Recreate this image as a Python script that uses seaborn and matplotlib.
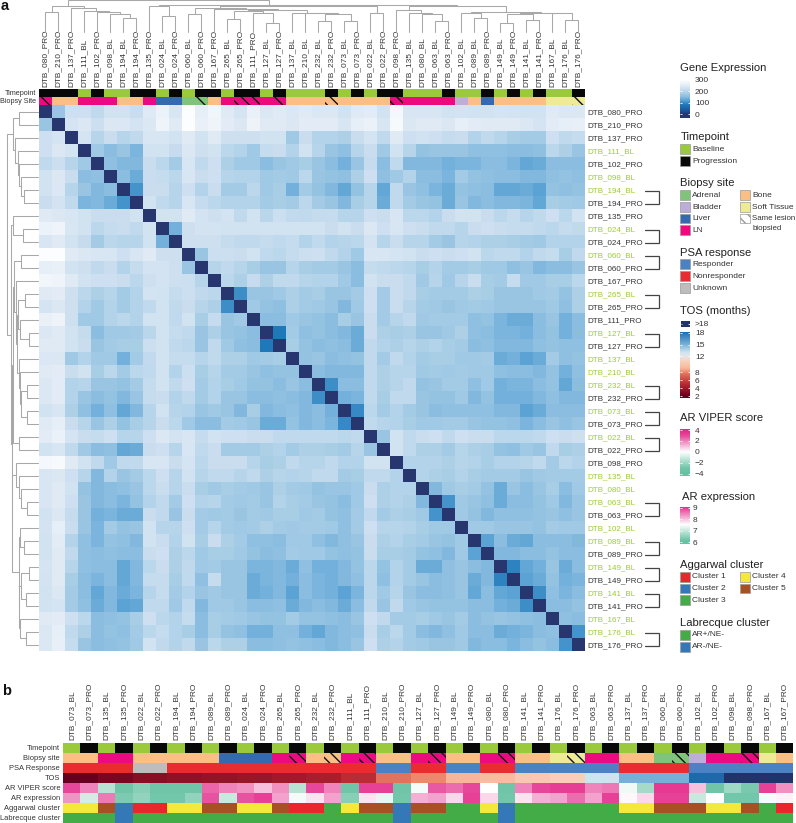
import numpy as np
import pandas as pd
import matplotlib
matplotlib.use("Agg")
import matplotlib.pyplot as plt
import seaborn as sns
from matplotlib.colors import ListedColormap, LinearSegmentedColormap, Normalize
from matplotlib.patches import Rectangle

sns.set_style("white")
plt.rcParams['font.family'] = ['Liberation Sans', 'DejaVu Sans']
plt.rcParams['hatch.linewidth'] = 1.0

# ---------- data, panel a ----------
order_a = ["080_PRO","210_PRO","137_PRO","111_BL","102_PRO","098_BL","194_BL","194_PRO","135_PRO","024_BL","024_PRO",
           "060_BL","060_PRO","167_PRO","265_BL","265_PRO","111_PRO","127_BL","127_PRO","137_BL","210_BL","232_BL",
           "232_PRO","073_BL","073_PRO","022_BL","022_PRO","098_PRO","135_BL","080_BL","063_BL","063_PRO","102_BL",
           "089_BL","089_PRO","149_BL","149_PRO","141_BL","141_PRO","167_BL","176_BL","176_PRO"]

upper = [
 [165,220,220,205,225,225,215,245,265,235,295,255,275,245,232,260,240,245,238,245,240,240,225,245,250,225,280,235,235,235,225,228,225,225,230,228,225,225,245,240,240],
 [232,240,218,240,238,228,240,270,245,295,260,270,250,240,268,245,245,240,250,248,248,235,255,262,235,285,240,245,245,240,255,250,245,245,245,240,232,250,255,258],
 [232,195,215,195,205,235,235,225,245,225,245,222,222,222,225,225,170,215,190,190,185,215,232,205,245,220,225,220,210,215,190,205,195,180,175,175,220,205,210],
 [170,150,165,140,225,225,212,240,222,225,200,190,170,210,215,190,225,195,165,155,195,215,170,225,195,160,165,165,165,155,155,155,150,150,155,200,185,165],
 [155,145,145,215,200,175,235,205,220,185,170,170,150,165,170,180,165,150,135,165,210,150,205,145,145,145,135,140,140,150,150,140,125,130,150,150,150],
 [150,130,215,210,200,235,215,220,195,190,190,170,175,170,200,165,160,155,185,220,155,170,190,150,150,140,175,160,155,150,150,145,145,155,160,155],
 [105,215,215,195,220,190,215,175,175,200,170,180,135,175,160,145,125,160,195,125,205,165,155,140,130,160,155,150,125,125,130,120,160,155,160],
 [225,205,195,235,210,200,190,190,190,175,180,175,200,175,165,145,180,195,130,205,175,165,160,130,165,145,150,145,145,140,125,180,175,170],
 [225,225,245,228,222,228,205,225,198,218,208,205,210,210,195,195,220,215,235,200,200,190,215,225,225,215,200,210,195,205,220,200,225],
 [135,222,228,228,225,225,225,225,225,225,225,225,215,225,215,240,220,235,220,215,205,205,195,215,220,215,210,210,205,200,210,205],
 [222,222,222,210,205,205,210,205,210,190,205,190,195,200,228,195,215,195,195,175,165,195,190,185,185,180,175,170,190,190,190],
 [165,218,218,215,225,205,200,210,218,220,205,190,170,235,235,232,225,215,220,215,220,225,200,205,205,190,205,210,180,205],
 [195,205,195,180,165,165,195,180,175,175,165,150,210,205,200,195,180,190,175,175,180,170,170,155,165,145,150,150,165],
 [200,185,212,185,205,205,195,190,190,170,150,225,215,215,205,170,195,170,195,215,180,175,210,170,170,180,180,200],
 [100,165,165,170,185,175,180,165,165,175,220,175,215,205,180,175,175,175,185,180,165,165,165,170,175,160,185],
 [170,160,155,185,175,170,165,145,170,220,175,215,195,175,170,165,170,175,170,165,165,165,165,170,155,185],
 [150,150,170,165,160,150,180,165,215,175,195,205,170,175,175,175,155,160,140,130,130,150,165,135,150],
 [80,175,155,160,150,145,130,215,185,180,185,165,165,170,185,155,150,140,140,135,150,160,135,150],
 [180,160,150,155,150,130,205,190,185,195,185,190,180,175,150,155,145,145,145,155,160,155,155],
 [160,165,150,155,160,205,175,205,190,175,180,180,170,170,175,130,135,120,130,175,155,160],
 [150,145,145,145,205,185,195,195,170,175,170,175,170,170,155,150,150,145,160,135,155],
 [100,150,150,205,185,195,205,160,165,175,175,155,170,135,140,140,150,160,125,150],
 [135,140,205,180,205,205,165,160,160,170,145,160,135,135,135,145,155,145,145],
 [95,200,175,190,175,165,150,155,155,155,155,145,145,120,130,150,150,150],
 [205,195,190,180,170,170,175,175,165,160,160,155,140,150,165,155,165],
 [165,225,205,215,220,205,220,215,215,200,200,200,205,220,215,220],
 [225,205,185,185,175,195,185,180,160,155,170,165,205,180,185],
 [190,190,190,185,195,190,180,190,190,195,205,175,200,190],
 [190,185,180,190,180,175,175,175,165,170,175,175,175],
 [145,170,180,175,160,130,165,150,165,180,150,170],
 [105,170,165,155,130,150,150,160,170,145,165],
 [170,160,145,155,155,155,160,165,155,165],
 [170,170,165,165,165,160,175,170,170],
 [120,150,130,125,150,150,150,145],
 [145,145,150,150,160,150,150],
 [90,125,135,165,130,150],
 [120,130,160,135,140],
 [100,155,140,150],
 [150,150,160],
 [155,150],
 [105],
]

site_a = ["LN","Bone","Bone","LN","LN","LN","Bone","Bone","LN","Liver","Liver","Adrenal","Adrenal","Bone","LN","LN","LN",
          "LN","LN","Bone","Bone","Bone","Bone","Bone","Bone","Bone","Bone","LN","LN","LN","LN","LN","Bladder","Bone",
          "Liver","Bone","Bone","Bone","Bone","Soft Tissue","Soft Tissue","Soft Tissue"]
same_lesion = ["080_PRO","060_PRO","265_PRO","111_PRO","127_PRO","232_PRO","098_PRO","176_PRO"]
paired_ids = ["194","024","060","265","127","232","073","022","063","089","149","141","176"]

# dendrogram: (height, left, right)
tree = (32,
  (26, (20,"080_PRO","210_PRO"),
       (24,"137_PRO",(21,"111_BL",(20,"102_PRO",(18,"098_BL",(14,"194_BL","194_PRO")))))),
  (27.5,
    (26,"135_PRO",(16,"024_BL","024_PRO")),
    (27,
      (26,
        (24.5,(18,"060_BL","060_PRO"),
          (23,"167_PRO",
            (22,(21,(13,"265_BL","265_PRO"),(19,"111_PRO",(9,"127_BL","127_PRO"))),
                (19.5,"137_BL",(19,"210_BL",(18,(11,"232_BL","232_PRO"),(11,"073_BL","073_PRO"))))))),
        (19.5,"022_BL","022_PRO")),
      (26.5,
        (22.5,"098_PRO",(19.5,"135_BL",(18,"080_BL",(11,"063_BL","063_PRO")))),
        (20,(19,"102_BL",(14.5,"089_BL","089_PRO")),
            (19.5,(18,(9.5,"149_BL","149_PRO"),(12.5,"141_BL","141_PRO")),
                  (19,"167_BL",(12.5,"176_BL","176_PRO"))))))))

# ---------- data, panel b ----------
order_b = ["073_BL","073_PRO","135_BL","135_PRO","022_BL","022_PRO","194_BL","194_PRO","089_BL","089_PRO","024_BL","024_PRO",
           "265_BL","265_PRO","232_BL","232_PRO","111_BL","111_PRO","210_BL","210_PRO","127_BL","127_PRO","149_BL","149_PRO",
           "080_BL","080_PRO","141_BL","141_PRO","176_BL","176_PRO","063_BL","063_PRO","137_BL","137_PRO","060_BL","060_PRO",
           "102_BL","102_PRO","098_BL","098_PRO","167_BL","167_PRO"]
psa_b = ["N"]*4+["U"]*2+["N"]*12+["R"]*2+["N"]*2+["R"]*2+["N"]*2+["R"]*6+["N"]*4+["R"]*6
tos_b = [2,2,2.6,2.6,3,3,3.3,3.3,3.5,3.5,3.7,3.7,4,4,4.3,4.3,5,5,7.5,7.5,8,8,9,9,9.2,9.2,10,10,10.5,10.5,13,13,15,15,15,15,18,18,25,25,25,25]
viper_b = [3,2,-1.5,-3,-2.5,-3,-3,-3,2.5,2,1.8,1,1.8,-1.5,3,2,-3,3.2,3.2,-3,-0.2,2.7,2.4,3,0,-3,2,3,3.3,3.3,2,2.2,-0.3,-1.9,3.5,3.5,1,-3,-2,-2.8,3.2,1.8]
ar_expr_b = [8.3,7.1,8.5,6.3,6.5,6.2,6.2,6.5,8.8,7.0,8.8,8.9,8.2,7.4,7.7,8.2,6.4,7.7,7.3,6.2,8.1,8.2,7.8,8.9,7.8,6.2,7.7,8.1,8.2,8.6,8.2,8.9,7.55,7.8,8.9,8.9,7.0,7.5,6.2,6.2,7.4,7.6]
aggarwal_b = [4,4,5,2,1,1,4,4,5,5,4,4,5,1,1,3,4,5,5,2,5,5,3,3,4,2,3,3,3,3,3,3,4,4,5,5,5,4,4,5,3,1]
labrecque_exceptions = ["135_PRO","210_PRO","080_PRO"]

# ---------- palettes ----------
tp_pal = {"BL":"#9bc93c","PRO":"#080808"}
site_pal = {"Adrenal":"#80c47c","Bladder":"#bcaed8","Liver":"#3569b0","LN":"#eb0a80","Bone":"#f9bf85","Soft Tissue":"#efea95"}
psa_pal = {"R":"#4a82c3","N":"#e92c30","U":"#bdbdbd"}
agg_pal = {1:"#e8262b",2:"#3478b8",3:"#44ac47",4:"#f4e93a",5:"#a65024"}
lab_pal = {"AR+/NE-":"#44ac47","AR-/NE-":"#3478b8"}

gene_cmap = LinearSegmentedColormap.from_list("gene", [(0,"#27366e"),(20/300,"#1d4f96"),(80/300,"#1f78b8"),(115/300,"#549fd3"),
    (150/300,"#8abde0"),(180/300,"#a8cee6"),(210/300,"#c5dbee"),(250/300,"#e3ecf6"),(1,"#ffffff")])
tos_lo, tos_hi = 2, 25
def tp(v): return (v-tos_lo)/(tos_hi-tos_lo)
tos_cmap = LinearSegmentedColormap.from_list("tos", [(tp(2),"#67001f"),(tp(3),"#860f24"),(tp(4),"#a11a2b"),(tp(5),"#bb2b33"),(tp(7.5),"#e2725b"),
    (tp(8),"#ef8a6d"),(tp(9),"#f9b99c"),(tp(10.5),"#f9cfb9"),(tp(12),"#e6e6ea"),(tp(13),"#cde3ef"),(tp(15),"#75b0d9"),(tp(18),"#1f6fb4"),(tp(18.5),"#20336b"),(tp(25),"#20336b")])
viper_cmap = LinearSegmentedColormap.from_list("vip", [(0,"#66c2a5"),(.125,"#70c5a9"),(.5,"#ffffff"),(.875,"#e6489a"),(1,"#e7298a")])
expr_cmap = LinearSegmentedColormap.from_list("exp", [(0,"#66c2a5"),(.06,"#70c5a9"),(.5,"#ffffff"),(.96,"#e6489a"),(1,"#e7298a")])

W, H = 796, 823
fig = plt.figure(figsize=(W/100, H/100), dpi=100)
def ax_px(x0, y0, x1, y1):
    return fig.add_axes([x0/W, 1-y1/H, (x1-x0)/W, (y1-y0)/H])

TXT = "#333333"
LEFT, RIGHT, TOP, BOT = 38.7, 585, 105, 651
n = len(order_a)

# matrix
M = np.zeros((n, n))
for i, row in enumerate(upper):
    M[i, i+1:] = row
    M[i+1:, i] = row
df = pd.DataFrame(M, index=order_a, columns=order_a)

axm = ax_px(LEFT, TOP, RIGHT, BOT)
sns.heatmap(df, ax=axm, cmap=gene_cmap, vmin=0, vmax=300, cbar=False, xticklabels=False, yticklabels=False)
axm.yaxis.tick_right()
axm.set_yticks(np.arange(n)+.5)
axm.set_yticklabels(["DTB_"+s for s in order_a], rotation=0, fontsize=5.8)
axm.tick_params(axis='y', length=0, pad=2)
for t, s in zip(axm.get_yticklabels(), order_a):
    t.set_color("#9ccb35" if s.endswith("BL") else TXT)
axm.set_xlabel(""); axm.set_ylabel("")

def strip(ax, labels, palette, hatched=()):
    cats = list(palette)
    codes = pd.DataFrame([[cats.index(l) for l in labels]])
    sns.heatmap(codes, ax=ax, cmap=ListedColormap([palette[c] for c in cats]), vmin=-.5, vmax=len(cats)-.5,
                cbar=False, xticklabels=False, yticklabels=False)
    for i in hatched:
        ax.add_patch(Rectangle((i, 0), 1, 1, fill=False, hatch='\\\\\\', ec='#111111', lw=0))

def grad_strip(ax, vals, cmap, vmin, vmax):
    sns.heatmap(pd.DataFrame([vals]), ax=ax, cmap=cmap, vmin=vmin, vmax=vmax, cbar=False, xticklabels=False, yticklabels=False)

# annotations a
axt = ax_px(LEFT, 89.3, RIGHT, 97)
strip(axt, [s.split("_")[1] for s in order_a], tp_pal)
axt.xaxis.tick_top()
axt.set_xticks(np.arange(n)+.5)
axt.set_xticklabels(["DTB_"+s for s in order_a], rotation=90, fontsize=5.95, color=TXT)
axt.tick_params(axis='x', length=0, pad=1.6)
axs = ax_px(LEFT, 97, RIGHT, 104.7)
strip(axs, site_a, site_pal, [order_a.index(s) for s in same_lesion])
ov = fig.add_axes([0, 0, 1, 1], zorder=10)
ov.set_xlim(0, W); ov.set_ylim(H, 0); ov.axis("off"); ov.patch.set_alpha(0)
ov.text(36, 93.2, "Timepoint", ha="right", va="center", fontsize=5.2, color=TXT)
ov.text(36, 101, "Biopsy Site", ha="right", va="center", fontsize=5.2, color=TXT)

# dendrograms
def link_coords(node, pos):
    if isinstance(node, str):
        return pos[node], 0, []
    h, l, r = node
    xl, hl, sl = link_coords(l, pos)
    xr, hr, sr = link_coords(r, pos)
    return (xl+xr)/2, h, sl+sr+[([xl, xl, xr, xr], [hl, h, h, hr])]
pos = {s: i+.5 for i, s in enumerate(order_a)}
_, _, links = link_coords(tree, pos)
axd1 = ax_px(LEFT, 0, RIGHT, 32)
axd2 = ax_px(7, TOP, 38, BOT)
for xs, hs in links:
    axd1.plot(xs, hs, color="#a8a8a8", lw=0.75, solid_joinstyle="miter", clip_on=False)
    axd2.plot(hs, xs, color="#a8a8a8", lw=0.75, solid_joinstyle="miter", clip_on=False)
axd1.set_xlim(0, n); axd1.set_ylim(0, 32); axd1.axis("off")
axd2.set_xlim(32, 0); axd2.set_ylim(n, 0); axd2.axis("off")

# brackets
for pid in paired_ids:
    y0 = TOP + (order_a.index(pid+"_BL")+.5)*13 + 1
    y1 = TOP + (order_a.index(pid+"_PRO")+.5)*13 + 1
    ov.plot([645, 659, 659, 645], [y0, y0, y1, y1], color="#444444", lw=0.9, solid_joinstyle="miter")

# panel b
BL, BR, BT, PITCH = 63, 793.3, 743, 10
rows_b = ["Timepoint","Biopsy site","PSA Response","TOS","AR VIPER score","AR expression","Aggarwal cluster","Labrecque cluster"]
site_b = [site_a[order_a.index(s)] for s in order_b]
axes_b = []
for r, name in enumerate(rows_b):
    a = ax_px(BL, BT+r*PITCH, BR, BT+r*PITCH+9.6)
    axes_b.append(a)
strip(axes_b[0], [s.split("_")[1] for s in order_b], tp_pal)
strip(axes_b[1], site_b, site_pal, [order_b.index(s) for s in same_lesion])
strip(axes_b[2], psa_b, psa_pal)
grad_strip(axes_b[3], tos_b, tos_cmap, tos_lo, tos_hi)
grad_strip(axes_b[4], viper_b, viper_cmap, -4, 4)
grad_strip(axes_b[5], ar_expr_b, expr_cmap, 6, 9)
strip(axes_b[6], aggarwal_b, agg_pal)
strip(axes_b[7], ["AR-/NE-" if s in labrecque_exceptions else "AR+/NE-" for s in order_b], lab_pal)
for a, name in zip(axes_b, rows_b):
    a.set_yticks([.5]); a.set_yticklabels([name], rotation=0, fontsize=5.4, color=TXT)
    a.tick_params(axis='y', length=0, pad=2)
axes_b[0].xaxis.tick_top()
axes_b[0].set_xticks(np.arange(n)+.5)
axes_b[0].set_xticklabels(["DTB_"+s for s in order_b], rotation=90, fontsize=5.95, color=TXT)
axes_b[0].tick_params(axis='x', length=0, pad=2.5)

# panel letters
ov.text(0.5, 10.3, "a", fontsize=10.5, fontweight="bold", color="#111111", va="baseline")
ov.text(2, 695, "b", fontsize=10.5, fontweight="bold", color="#111111", va="baseline")

# legends
LT = 8.1; LI = 6.0
def title(y, s, x=680.5):
    ov.text(x, y, s, fontsize=LT, color="#222222", va="center")
def item(x, y, col, s, hatch=None, fs=LI):
    ov.add_patch(Rectangle((x, y-4.7), 9.4, 9.4, fc=col, ec="#9a9a9a", lw=0.5, hatch=hatch))
    ov.text(x+11.8, y, s, fontsize=fs, color=TXT, va="center")

def vbar(x0, y0, x1, y1, cmap, norm, lo, hi, ticks, labels=None, lab_pad=3.6):
    a = ax_px(x0, y0, x1, y1)
    vals = np.linspace(hi, lo, 200)[:, None]
    a.imshow(vals, cmap=cmap, norm=norm, aspect="auto", extent=[0, 1, lo, hi], origin="upper")
    a.set_xticks([]); a.yaxis.tick_right()
    a.set_yticks(ticks); a.set_yticklabels(labels or [str(t) for t in ticks], fontsize=LI, color=TXT)
    a.tick_params(axis='y', length=0, pad=lab_pad)
    for s in a.spines.values():
        s.set_visible(False)
    a.hlines(ticks, 0, .2, color="white", lw=0.6)
    a.hlines(ticks, .8, 1, color="white", lw=0.6)
    a.set_xlim(0, 1); a.set_ylim(lo, hi)

title(68, "Gene Expression")
vbar(680, 78.5, 690, 118, gene_cmap, Normalize(0, 300), -35, 313, [0, 100, 200, 300])

title(137, "Timepoint")
item(680.3, 149, tp_pal["BL"], "Baseline")
item(680.3, 161, tp_pal["PRO"], "Progression")

title(183, "Biopsy site")
item(680.3, 195, site_pal["Adrenal"], "Adrenal")
item(680.3, 207, site_pal["Bladder"], "Bladder")
item(680.3, 218.5, site_pal["Liver"], "Liver")
item(680.3, 230, site_pal["LN"], "LN")
item(740.3, 195, site_pal["Bone"], "Bone")
item(740.3, 207, site_pal["Soft Tissue"], "Soft Tissue")
item(740.3, 218.5, "white", "Same lesion", hatch="\\\\\\", fs=5.7)
ov.text(752.1, 228, "biopsied", fontsize=5.7, color=TXT, va="center")

title(252.7, "PSA response")
item(680.3, 264, psa_pal["R"], "Responder")
item(680.3, 276, psa_pal["N"], "Nonresponder")
item(680.3, 288, psa_pal["U"], "Unknown")

title(310.7, "TOS (months)")
axg = ax_px(680.5, 320.5, 690, 326.7)
axg.add_patch(Rectangle((0, 0), 1, 1, fc="#20336b", ec="none"))
axg.hlines([.5], 0, .2, color="white", lw=0.6); axg.hlines([.5], .8, 1, color="white", lw=0.6)
axg.set_xlim(0, 1); axg.set_ylim(0, 1); axg.set_xticks([]); axg.yaxis.tick_right()
axg.set_yticks([.5]); axg.set_yticklabels([">18"], fontsize=LI, color=TXT); axg.tick_params(axis='y', length=0, pad=3.6)
for s in axg.spines.values():
    s.set_visible(False)
vbar(680, 331.7, 690, 398, tos_cmap, Normalize(tos_lo, tos_hi), 1.5, 18.25, [2, 4, 6, 8, 12, 15, 18])

title(418, "AR VIPER score")
vbar(680, 429, 690, 476, viper_cmap, Normalize(-4, 4), -4.45, 4.2, [-4, -2, 0, 2, 4],
     ["\u22124", "\u22122", "0", "2", "4"])

title(496.7, "AR expression", x=681.7)
vbar(680, 506.7, 690, 544, expr_cmap, Normalize(6, 9), 5.83, 9.09, [6, 7, 8, 9], lab_pad=1.6)

title(565, "Aggarwal cluster")
item(680.3, 577, agg_pal[1], "Cluster 1")
item(680.3, 588.7, agg_pal[2], "Cluster 2")
item(680.3, 600, agg_pal[3], "Cluster 3")
item(740.3, 577, agg_pal[4], "Cluster 4")
item(740.3, 588.7, agg_pal[5], "Cluster 5")

title(622.7, "Labrecque cluster")
item(680.3, 635, lab_pal["AR+/NE-"], "AR+/NE-")
item(680.3, 647, lab_pal["AR-/NE-"], "AR-/NE-")

fig.savefig("out.png", dpi=100, facecolor="white")
